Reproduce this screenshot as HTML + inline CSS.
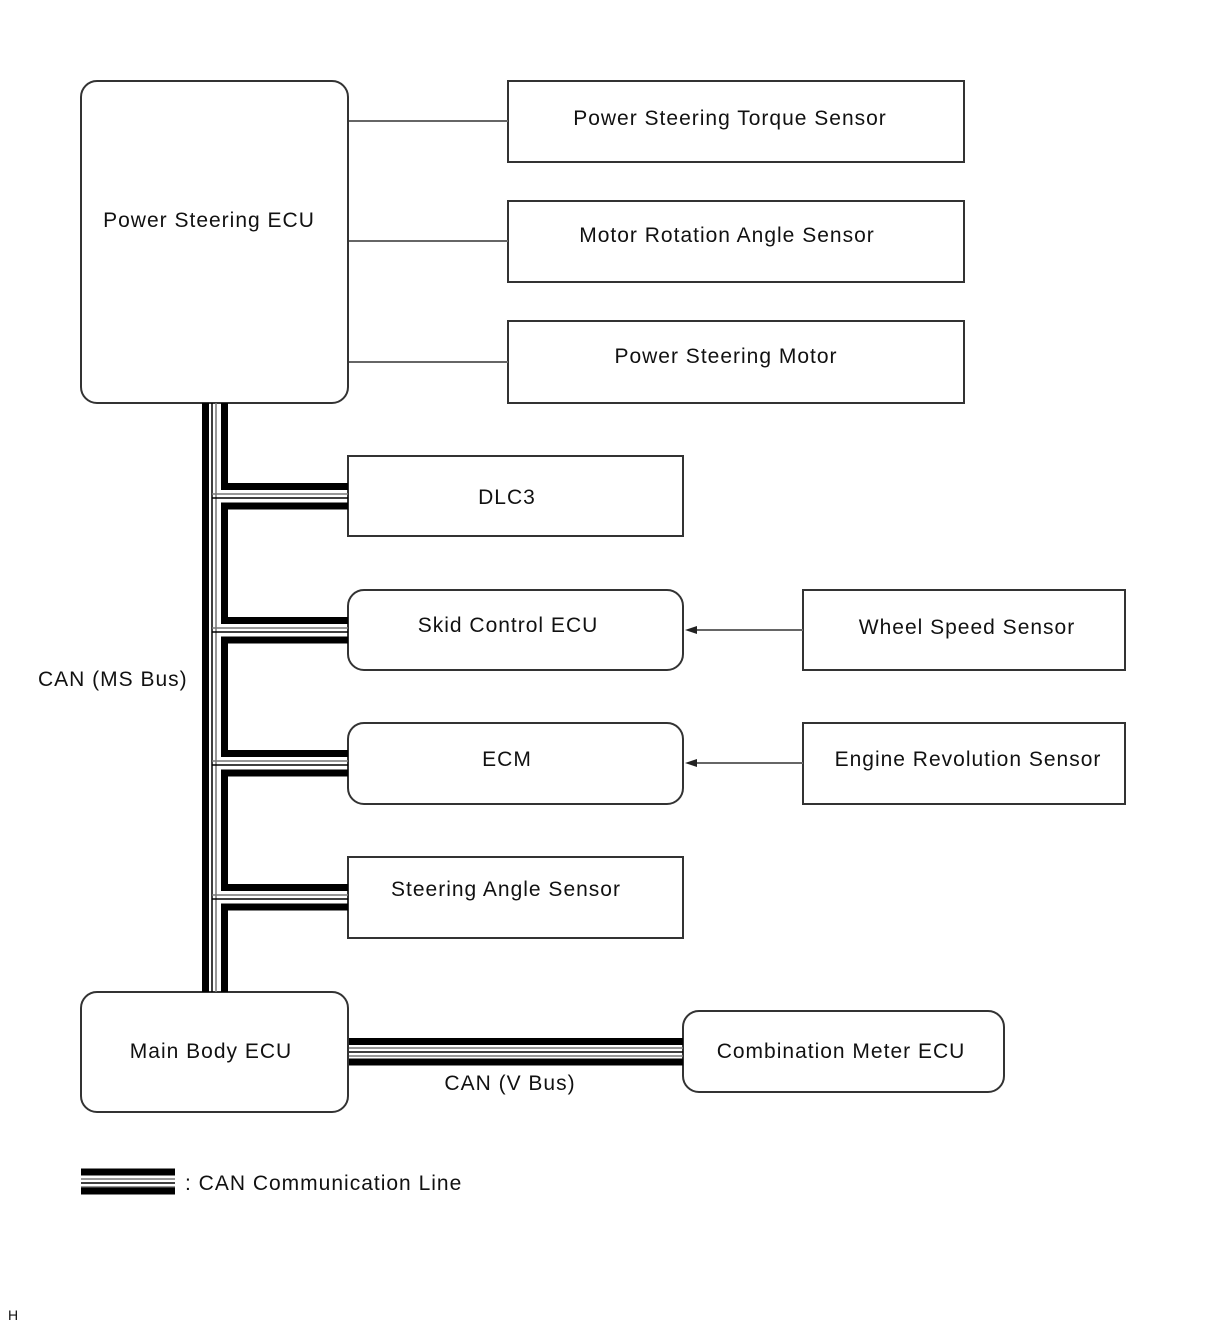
<!DOCTYPE html>
<html><head><style>
html,body{margin:0;padding:0;background:#fff;}
svg{display:block;}
text{font-family:"Liberation Sans",sans-serif;font-size:21px;fill:#111;letter-spacing:1px;}
</style></head><body>
<svg width="1210" height="1328" viewBox="0 0 1210 1328" xmlns="http://www.w3.org/2000/svg">
<g fill="none" stroke="#333" stroke-width="2">
<rect x="81" y="81" width="267" height="322" rx="16"/>
<rect x="508" y="81" width="456" height="81"/>
<rect x="508" y="201" width="456" height="81"/>
<rect x="508" y="321" width="456" height="82"/>
<rect x="348" y="456" width="335" height="80"/>
<rect x="348" y="590" width="335" height="80" rx="16"/>
<rect x="803" y="590" width="322" height="80"/>
<rect x="348" y="723" width="335" height="81" rx="16"/>
<rect x="803" y="723" width="322" height="81"/>
<rect x="348" y="857" width="335" height="81"/>
<rect x="81" y="992" width="267" height="120" rx="16"/>
<rect x="683" y="1011" width="321" height="81" rx="16"/>
</g>
<g stroke="#666" stroke-width="2">
<line x1="349" y1="121" x2="508" y2="121"/>
<line x1="349" y1="241" x2="508" y2="241"/>
<line x1="349" y1="362" x2="508" y2="362"/>
<line x1="695" y1="630" x2="803" y2="630"/>
<line x1="695" y1="763" x2="803" y2="763"/>
</g>
<polygon points="685,630 697,626 697,634" fill="#222"/>
<polygon points="685,763 697,759 697,767" fill="#222"/>
<g stroke="#000">
<line x1="205.5" y1="403" x2="205.5" y2="992" stroke-width="7"/>
<line x1="212" y1="403" x2="212" y2="992" stroke-width="1.5"/>
<line x1="216" y1="403" x2="216" y2="992" stroke-width="1.5" stroke="#777"/>
<g stroke-width="7">
<line x1="224.5" y1="403" x2="224.5" y2="489"/>
<line x1="224.5" y1="503" x2="224.5" y2="623"/>
<line x1="224.5" y1="637" x2="224.5" y2="756"/>
<line x1="224.5" y1="770" x2="224.5" y2="890"/>
<line x1="224.5" y1="904" x2="224.5" y2="992"/>
</g>
<g stroke-width="7">
<line x1="221" y1="486.5" x2="348" y2="486.5"/><line x1="221" y1="506" x2="348" y2="506"/>
<line x1="221" y1="620.5" x2="348" y2="620.5"/><line x1="221" y1="640" x2="348" y2="640"/>
<line x1="221" y1="753.5" x2="348" y2="753.5"/><line x1="221" y1="773" x2="348" y2="773"/>
<line x1="221" y1="887.5" x2="348" y2="887.5"/><line x1="221" y1="907" x2="348" y2="907"/>
</g>
<g stroke-width="1.5">
<line x1="212" y1="494" x2="348" y2="494" stroke="#777"/><line x1="212" y1="498" x2="348" y2="498"/>
<line x1="212" y1="628" x2="348" y2="628" stroke="#777"/><line x1="212" y1="632" x2="348" y2="632"/>
<line x1="212" y1="761" x2="348" y2="761" stroke="#777"/><line x1="212" y1="765" x2="348" y2="765"/>
<line x1="212" y1="895" x2="348" y2="895" stroke="#777"/><line x1="212" y1="899" x2="348" y2="899"/>
</g>
<line x1="349" y1="1041.5" x2="683" y2="1041.5" stroke-width="7"/>
<line x1="349" y1="1048" x2="683" y2="1048" stroke-width="1.5" stroke="#777"/>
<line x1="349" y1="1052" x2="683" y2="1052" stroke-width="1.5"/>
<line x1="349" y1="1056" x2="683" y2="1056" stroke-width="1.5" stroke="#777"/>
<line x1="349" y1="1062" x2="683" y2="1062" stroke-width="7"/>
<line x1="81" y1="1172" x2="175" y2="1172" stroke-width="7"/>
<line x1="81" y1="1179" x2="175" y2="1179" stroke-width="1.5" stroke="#777"/>
<line x1="81" y1="1183" x2="175" y2="1183" stroke-width="1.5"/>
<line x1="81" y1="1187" x2="175" y2="1187" stroke-width="1.5" stroke="#777"/>
<line x1="81" y1="1191" x2="175" y2="1191" stroke-width="7"/>
</g>
<g text-anchor="middle">
<text x="209" y="227">Power Steering ECU</text>
<text x="730" y="125">Power Steering Torque Sensor</text>
<text x="727" y="242">Motor Rotation Angle Sensor</text>
<text x="726" y="363">Power Steering Motor</text>
<text x="507" y="504">DLC3</text>
<text x="508" y="632">Skid Control ECU</text>
<text x="967" y="634">Wheel Speed Sensor</text>
<text x="507" y="766">ECM</text>
<text x="968" y="766">Engine Revolution Sensor</text>
<text x="506" y="896">Steering Angle Sensor</text>
<text x="211" y="1058">Main Body ECU</text>
<text x="841" y="1058">Combination Meter ECU</text>
<text x="510" y="1090">CAN (V Bus)</text>
</g>
<text x="38" y="686">CAN (MS Bus)</text>
<text x="185" y="1190">: CAN Communication Line</text>
<text x="8" y="1320" style="font-size:14px;letter-spacing:0">H</text>
</svg>
</body></html>
